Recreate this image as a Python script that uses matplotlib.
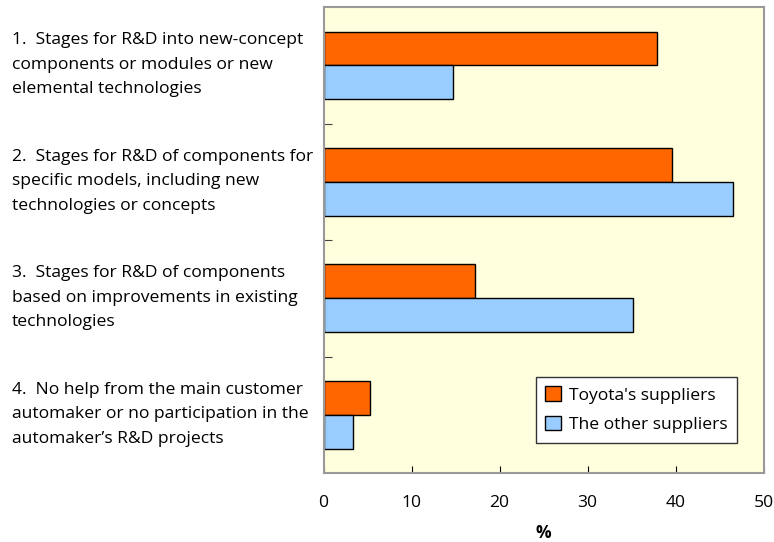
import matplotlib
matplotlib.use("Agg")
import matplotlib.pyplot as plt
from matplotlib.transforms import blended_transform_factory
import numpy as np

categories = [
    "1.  Stages for R&D into new-concept\ncomponents or modules or new\nelemental technologies",
    "2.  Stages for R&D of components for\nspecific models, including new\ntechnologies or concepts",
    "3.  Stages for R&D of components\nbased on improvements in existing\ntechnologies",
    "4.  No help from the main customer\nautomaker or no participation in the\nautomaker\u2019s R&D projects",
]
toyota = [37.9, 39.6, 17.2, 5.3]
others = [14.7, 46.5, 35.2, 3.4]
xticks = [0, 10, 20, 30, 40, 50]

plt.rcParams['font.family'] = ['Open Sans', 'DejaVu Sans']
FS = 12.6

fig = plt.figure(figsize=(7.74, 5.42), dpi=100)
ax = fig.add_axes([0.418, 0.1273, 0.5685, 0.8597])
ax.set_facecolor('#FFFFDD')

y = np.arange(len(categories))
h = 0.29
ax.barh(y - h / 2, toyota, height=h, color='#FF6600', edgecolor='black',
        linewidth=1, label="Toyota's suppliers")
ax.barh(y + h / 2, others, height=h, color='#99CCFF', edgecolor='black',
        linewidth=1, label="The other suppliers")

ax.set_xlim(0, 50)
ax.set_ylim(len(categories) - 0.5, -0.5)
ax.set_xticks(xticks)
ax.set_xticklabels([str(t) for t in xticks], fontsize=FS)
ax.tick_params(axis='x', direction='in', length=5, pad=16, color='black')
ax.set_yticks(np.arange(len(categories) - 1) + 0.5)
ax.set_yticklabels([])
ax.tick_params(axis='y', direction='in', length=6, color='#444444')

for s in ax.spines.values():
    s.set_color('#999999')
    s.set_linewidth(1.5)

ax.set_xlabel('%', fontsize=FS, fontweight='bold', labelpad=9)

trans = blended_transform_factory(fig.transFigure, ax.transData)
for i, c in enumerate(categories):
    ax.text(12 / 774, i - 0.005, c, transform=trans, ha='left', va='center',
            fontsize=FS, linespacing=1.72, color='black')

leg = ax.legend(loc='lower right', bbox_to_anchor=(0.94, 0.065), fontsize=FS,
                frameon=True, fancybox=False, edgecolor='#333333',
                facecolor='white', framealpha=1, handlelength=0.9,
                handleheight=0.9, handletextpad=0.45, borderpad=0.55,
                labelspacing=0.7, borderaxespad=0)
leg.get_frame().set_linewidth(1)

fig.savefig('out.png', dpi=100)
